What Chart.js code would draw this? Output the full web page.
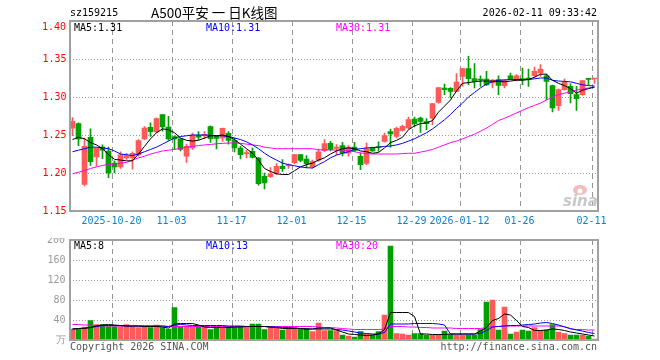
<!DOCTYPE html>
<html>
<head>
<meta charset="utf-8">
<script src="https://cdn.jsdelivr.net/npm/chart.js@4.4.1/dist/chart.umd.min.js"></script>
<style>
  body { margin: 0; background: #fff; }
  #wrap { position: relative; width: 660px; height: 360px; overflow: hidden; }
  canvas { position: absolute; left: 0; }
  #k { top: 0; }
  #v { top: 236px; }
</style>
</head>
<body>
<div id="wrap">
  <canvas id="k" width="660" height="236"></canvas>
  <canvas id="v" width="660" height="124"></canvas>
</div>
<script>
// Dias de negociação (sz159215, diário)
const dates = [
  "2025-10-09","2025-10-10","2025-10-13","2025-10-14","2025-10-15","2025-10-16","2025-10-17","2025-10-20","2025-10-21","2025-10-22",
  "2025-10-23","2025-10-24","2025-10-27","2025-10-28","2025-10-29","2025-10-30","2025-10-31","2025-11-03","2025-11-04","2025-11-05",
  "2025-11-06","2025-11-07","2025-11-10","2025-11-11","2025-11-12","2025-11-13","2025-11-14","2025-11-17","2025-11-18","2025-11-19",
  "2025-11-20","2025-11-21","2025-11-24","2025-11-25","2025-11-26","2025-11-27","2025-11-28","2025-12-01","2025-12-02","2025-12-03",
  "2025-12-04","2025-12-05","2025-12-08","2025-12-09","2025-12-10","2025-12-11","2025-12-12","2025-12-15","2025-12-16","2025-12-17",
  "2025-12-18","2025-12-19","2025-12-22","2025-12-23","2025-12-24","2025-12-25","2025-12-26","2025-12-29","2025-12-30","2025-12-31",
  "2026-01-05","2026-01-06","2026-01-07","2026-01-08","2026-01-09","2026-01-12","2026-01-13","2026-01-14","2026-01-15","2026-01-16",
  "2026-01-19","2026-01-20","2026-01-21","2026-01-22","2026-01-23","2026-01-26","2026-01-27","2026-01-28","2026-01-29","2026-01-30",
  "2026-02-02","2026-02-03","2026-02-04","2026-02-05","2026-02-06","2026-02-09","2026-02-10","2026-02-11"
];

const open = [
  1.259,1.265,1.185,1.247,1.221,1.234,1.229,1.213,1.208,1.220,
  1.220,1.224,1.245,1.260,1.254,1.277,1.2605,1.248,1.245,1.222,
  1.233,1.2495,1.2495,1.261,1.2482,1.2461,1.2522,1.243,1.2329,1.2255,
  1.2285,1.2197,1.1956,1.1952,1.200,1.2088,1.2095,1.2135,1.2241,1.2184,
  1.208,1.217,1.2294,1.239,1.2325,1.236,1.226,1.2342,1.2219,1.2125,
  1.2333,1.234,1.2417,1.2544,1.2482,1.2561,1.2592,1.2711,1.2724,1.2675,
  1.272,1.293,1.3118,1.3114,1.3075,1.3272,1.3373,1.3241,1.3232,1.3237,
  1.3184,1.3228,1.3149,1.328,1.3228,1.3232,1.3240,1.328,1.3316,1.328,
  1.3149,1.2886,1.3096,1.314,1.3031,1.3031,1.3237,1.3237
];
const high = [
  1.273,1.266,1.246,1.258,1.233,1.237,1.234,1.216,1.228,1.226,
  1.228,1.244,1.261,1.266,1.2725,1.277,1.2746,1.249,1.246,1.238,
  1.2526,1.2544,1.2544,1.262,1.249,1.2592,1.2544,1.2461,1.2351,1.2298,
  1.2329,1.2206,1.200,1.207,1.2123,1.2175,1.212,1.2245,1.2245,1.2228,
  1.217,1.2316,1.2439,1.2417,1.2373,1.2404,1.236,1.2404,1.2263,1.2395,
  1.2342,1.241,1.2526,1.2579,1.2605,1.263,1.2737,1.2737,1.2737,1.2715,
  1.2912,1.3123,1.317,1.3123,1.3307,1.3373,1.3535,1.3439,1.328,1.3338,
  1.3228,1.328,1.3228,1.3316,1.3294,1.3382,1.3368,1.3395,1.3425,1.330,
  1.3158,1.3105,1.3237,1.3175,1.314,1.3215,1.3237,1.3245
];
const low = [
  1.249,1.236,1.183,1.210,1.209,1.219,1.194,1.200,1.206,1.218,
  1.205,1.222,1.244,1.248,1.253,1.255,1.243,1.231,1.229,1.214,
  1.231,1.244,1.245,1.2404,1.2316,1.2417,1.238,1.2276,1.2184,1.2197,
  1.2197,1.184,1.1789,1.1943,1.1978,1.2022,1.206,1.212,1.2145,1.2066,
  1.2066,1.2154,1.228,1.229,1.2241,1.2225,1.222,1.228,1.2044,1.211,
  1.2285,1.2285,1.2405,1.234,1.246,1.255,1.258,1.2605,1.2535,1.257,
  1.2636,1.292,1.303,1.2987,1.3066,1.314,1.3162,1.3118,1.314,1.3154,
  1.3118,1.3031,1.312,1.3228,1.321,1.3162,1.314,1.326,1.3272,1.2965,
  1.2803,1.2825,1.309,1.2921,1.2825,1.302,1.3162,1.318
];
const close = [
  1.268,1.245,1.235,1.215,1.2325,1.230,1.200,1.208,1.224,1.223,
  1.226,1.2425,1.259,1.2545,1.2715,1.2605,1.2447,1.245,1.231,1.235,
  1.250,1.2473,1.250,1.2452,1.2456,1.2588,1.2430,1.2329,1.2241,1.2263,
  1.2206,1.186,1.1868,1.1987,1.2088,1.2057,1.2100,1.2241,1.2165,1.2123,
  1.215,1.228,1.2386,1.231,1.2342,1.2262,1.2342,1.2298,1.211,1.232,
  1.2292,1.2335,1.2491,1.2513,1.2588,1.2614,1.2702,1.265,1.268,1.2649,
  1.2912,1.3123,1.3096,1.3075,1.3197,1.3373,1.3241,1.3206,1.3224,1.3158,
  1.3222,1.3154,1.3215,1.3237,1.3280,1.3228,1.3235,1.3338,1.3368,1.3206,
  1.2855,1.3096,1.3197,1.3044,1.2978,1.3215,1.3232,1.3245
];

// Médias móveis
const ma5 = [
  1.244,1.247,1.245,1.240,1.237,1.232,1.224,1.218,1.217,1.216,
  1.216,1.225,1.235,1.245,1.253,1.258,1.257,1.253,1.246,1.243,
  1.242,1.243,1.246,1.249,1.249,1.250,1.248,1.244,1.238,1.232,
  1.226,1.217,1.206,1.202,1.199,1.198,1.198,1.203,1.208,1.211,
  1.213,1.217,1.220,1.225,1.229,1.232,1.233,1.232,1.229,1.228,
  1.226,1.227,1.233,1.240,1.243,1.247,1.257,1.262,1.265,1.266,
  1.269,1.280,1.288,1.296,1.308,1.318,1.319,1.320,1.321,1.321,
  1.321,1.3205,1.320,1.321,1.322,1.322,1.323,1.326,1.330,1.330,
  1.322,1.318,1.315,1.311,1.305,1.309,1.311,1.313
];
const ma10 = [
  1.228,1.230,1.232,1.234,1.234,1.233,1.232,1.229,1.225,1.224,
  1.223,1.225,1.228,1.231,1.234,1.238,1.242,1.246,1.248,1.249,
  1.250,1.250,1.250,1.2495,1.249,1.249,1.248,1.246,1.244,1.241,
  1.237,1.232,1.226,1.221,1.217,1.213,1.211,1.2095,1.208,1.207,
  1.2065,1.211,1.215,1.220,1.2235,1.226,1.228,1.231,1.232,1.233,
  1.2335,1.234,1.235,1.2355,1.237,1.239,1.242,1.245,1.249,1.253,
  1.258,1.264,1.270,1.277,1.285,1.292,1.300,1.306,1.312,1.317,
  1.320,1.322,1.3225,1.323,1.323,1.323,1.323,1.324,1.325,1.325,
  1.322,1.321,1.3205,1.320,1.318,1.316,1.315,1.3145
];
const ma30 = [
  1.199,1.201,1.203,1.206,1.208,1.210,1.211,1.212,1.213,1.214,
  1.217,1.220,1.222,1.225,1.227,1.229,1.230,1.231,1.2325,1.234,
  1.235,1.236,1.237,1.2375,1.2385,1.239,1.2395,1.2395,1.239,1.238,
  1.237,1.236,1.234,1.233,1.232,1.232,1.232,1.232,1.232,1.232,
  1.232,1.2305,1.2305,1.2305,1.230,1.230,1.2295,1.228,1.2265,1.2255,
  1.225,1.225,1.225,1.225,1.225,1.2255,1.226,1.226,1.2275,1.229,
  1.231,1.234,1.237,1.240,1.242,1.245,1.248,1.251,1.255,1.259,
  1.264,1.269,1.272,1.2755,1.279,1.2825,1.286,1.289,1.292,1.296,
  1.300,1.303,1.305,1.307,1.309,1.3105,1.312,1.313
];

// Volume (万) e médias
const volume = [
  22,22,26,39,31,31,27,27,27,31,
  27,25,27,25,30,25,22,65,27,27,
  27,27,27,21,27,27,27,27,27,27,
  32,32,21,27,24,20,25,25,23,23,
  17,34,19,19,19,10,8,6,17,12,
  10,17,50,188,13,12,10,13,13,10,
  10,10,18,11,10,10,10,10,21,76,
  80,20,66,12,16,20,18,25,19,20,
  31,16,13,10,10,10,8,2
];
const volMa5 = [
  22,23,23,25,28,30,31,30,29,28,
  28,28,27,27,27,26,24,32,33,33,
  33,30,26,25,25,25,25,26,26,27,
  27,27,27,26,25,23,23,23,23,22,
  22,24,24,24,20,16,12,11,10,9,
  10,12,21,55,55,55,55,47,12,12,
  11,11,11,12,12,12,12,12,18,25,
  39,43,52,50,39,27,25,19,19,20,
  22,21,19,16,14,12,10,8
];
const volMa10 = [
  22,23,24,25,27,29,29,29,29,28,
  28,28,28,28,28,28,27,30,31,30,
  29,29,29,29,29,29,28,28,28,27,
  27,27,27,26,26,25,25,24,23,22,
  22,22,22,22,21,20,18,16,14,13,
  12,12,15,32,32,32,32,33,33,33,
  33,32,30,12,12,12,12,12,13,19,
  26,27,28,29,29,30,31,32,34,35,
  33,30,26,23,20,18,15,13
];
const volMa30 = [
  31,31,30,30,29,28,28,28,28,28,
  28,28,28,28,28,28,27,27,27,27,
  27,27,27,27,27,27,27,27,27,27,
  27,27,27,27,27,27,27,27,27,27,
  27,26,25,25,24,23,22,21,21,21,
  21,21,22,27,27,27,26,26,25,25,
  24,24,24,24,23,23,23,23,23,25,
  27,27,28,28,28,28,28,28,28,28,
  28,28,27,22,21,21,20,20
];

// Rótulos do eixo x
const tickDays = ["2025-10-20","2025-11-03","2025-11-17","2025-12-01","2025-12-15","2025-12-29","2026-01-12","2026-01-26","2026-02-11"];
const tickText = ["2025-10-20","11-03","11-17","12-01","12-15","12-29","2026-01-12","01-26","02-11"];

const RED = "#ff5a5a", GREEN = "#00a000";
const MONO = "DejaVu Sans Mono";
const cores = dates.map((d, i) => close[i] >= open[i] ? RED : GREEN);
const tickIdx = tickDays.map(d => dates.indexOf(d));

// Grade, moldura e textos desenhados no canvas
const decor = {
  id: "decor",
  beforeDatasetsDraw(chart, args, opts) {
    const c = chart.ctx, a = chart.chartArea;
    const xs = chart.scales.x, ys = chart.scales.y;
    const l = Math.round(a.left), r = Math.round(a.right);
    c.save();
    c.lineWidth = 1;
    // linhas horizontais pontilhadas
    c.strokeStyle = "#999999";
    c.setLineDash([1, 2]);
    ys.ticks.forEach(t => {
      if (t.value <= ys.min || t.value >= ys.max) return;
      const y = Math.round(ys.getPixelForValue(t.value)) + 0.5;
      c.beginPath(); c.moveTo(l, y); c.lineTo(r, y); c.stroke();
    });
    // linhas verticais tracejadas
    c.strokeStyle = "#959595";
    c.setLineDash([5, 4]);
    const meio = xs.width / dates.length / 2;
    tickIdx.forEach(i => {
      const x = Math.round(xs.getPixelForValue(i) - meio) + 0.5;
      c.beginPath(); c.moveTo(x, Math.round(a.top)); c.lineTo(x, Math.round(a.bottom)); c.stroke();
    });
    c.setLineDash([]);
    if (opts.logo) {
      c.fillStyle = "#f2bcbc";
      c.beginPath(); c.ellipse(580, 190, 7, 5, 0, 0, Math.PI * 2); c.fill();
      c.fillStyle = "#fff";
      c.beginPath(); c.arc(580, 191, 2.5, 0, Math.PI * 2); c.fill();
      c.fillStyle = "#c8c8c8";
      c.font = "italic bold 15px DejaVu Sans";
      c.fillText("sina", 563, 206);
    }
    c.restore();
  },
  afterDraw(chart, args, opts) {
    const c = chart.ctx, a = chart.chartArea;
    c.save();
    c.strokeStyle = "#a0a0a0";
    c.lineWidth = 2;
    const l = Math.round(a.left), t = Math.round(a.top), r = Math.round(a.right), b = Math.round(a.bottom);
    c.strokeRect(l, t, r - l, b - t);
    c.textBaseline = "middle";
    (opts.labels || []).forEach(x => {
      c.save();
      const y = x.fromTop ? t + x.y : (x.fromBottom ? b + x.y : x.y);
      if (x.clipAbove !== undefined) {
        c.beginPath(); c.rect(0, t + x.clipAbove, chart.width, chart.height); c.clip();
      }
      c.font = x.font || ("10px " + MONO);
      c.fillStyle = x.color;
      c.textAlign = x.align || "left";
      c.fillText(x.text, x.x, y);
      c.restore();
    });
    c.restore();
  }
};

// Gráfico K (velas + médias)
new Chart(document.getElementById("k"), {
  type: "bar",
  data: {
    labels: dates,
    datasets: [
      { type: "line", data: ma5, borderColor: "#000000", borderWidth: 1, pointRadius: 0, order: 0 },
      { type: "line", data: ma10, borderColor: "#0000ff", borderWidth: 1, pointRadius: 0, order: 1 },
      { type: "line", data: ma30, borderColor: "#ff00ff", borderWidth: 1, pointRadius: 0, order: 2 },
      { data: dates.map((d, i) => [open[i], close[i]]), backgroundColor: cores, barThickness: 5, minBarLength: 1, grouped: false, order: 3 },
      { data: dates.map((d, i) => [low[i], high[i]]), backgroundColor: cores, barThickness: 1, grouped: false, order: 4 }
    ]
  },
  options: {
    responsive: false,
    animation: false,
    devicePixelRatio: 1,
    layout: { padding: { left: 0.5, top: 21, right: 62.5, bottom: 0 } },
    plugins: {
      legend: { display: false },
      tooltip: { enabled: false },
      decor: {
        logo: true,
        labels: [
          { text: "sz159215", x: 70, y: 13, color: "#000" },
          { text: "A500平安 一 日K线图", x: 151, y: 13, color: "#000", font: "13.5px Noto Sans CJK SC" },
          { text: "2026-02-11 09:33:42", x: 597, y: 13, color: "#000", align: "right" },
          { text: "1.40", x: 66, y: 27, color: "#ff0000", align: "right" },
          { text: "MA5:" + ma5[ma5.length - 1].toFixed(2), x: 74, y: 28, color: "#000" },
          { text: "MA10:" + ma10[ma10.length - 1].toFixed(2), x: 206, y: 28, color: "#0000ff" },
          { text: "MA30:" + ma30[ma30.length - 1].toFixed(2), x: 336, y: 28, color: "#ff00ff" }
        ]
      }
    },
    scales: {
      x: {
        offset: true,
        grid: { display: false, drawTicks: false },
        border: { display: false },
        ticks: {
          autoSkip: false, maxRotation: 0, padding: 4, labelOffset: -3,
          color: "#0a82cc", font: { family: MONO, size: 10 },
          callback: (v, i) => { const k = tickIdx.indexOf(i); return k >= 0 ? tickText[k] : ""; }
        },
        afterFit: s => { s.height = 25; }
      },
      y: {
        min: 1.15, max: 1.40,
        grid: { display: false, drawTicks: false },
        border: { display: false },
        ticks: {
          stepSize: 0.05, padding: 3, color: "#ff0000", font: { family: MONO, size: 10 },
          callback: v => v >= 1.399 ? null : v.toFixed(2)
        },
        afterFit: s => { s.width = 69; }
      }
    }
  },
  plugins: [decor]
});

// Gráfico de volume
const volCanvas = document.getElementById("v");
const volConfig = () => ({
  type: "bar",
  data: {
    labels: dates,
    datasets: [
      { type: "line", data: volMa5, borderColor: "#000000", borderWidth: 1, pointRadius: 0, order: 0 },
      { type: "line", data: volMa10, borderColor: "#0000ff", borderWidth: 1, pointRadius: 0, order: 1 },
      { type: "line", data: volMa30, borderColor: "#ff00ff", borderWidth: 1, pointRadius: 0, order: 2 },
      { data: volume, backgroundColor: cores, barThickness: 5, grouped: false, order: 3 }
    ]
  },
  options: {
    responsive: false,
    maintainAspectRatio: false,
    animation: false,
    devicePixelRatio: 1,
    layout: { padding: { left: 0.5, top: 4, right: 62.5, bottom: 20 } },
    plugins: {
      legend: { display: false },
      tooltip: { enabled: false },
      decor: {
        labels: [
          { text: "200", x: 65, y: 0, fromTop: true, clipAbove: -2, color: "#999", align: "right" },
          { text: "MA5:" + volMa5[volMa5.length - 1], x: 74, y: 6, fromTop: true, color: "#000" },
          { text: "MA10:" + volMa10[volMa10.length - 1], x: 206, y: 6, fromTop: true, color: "#0000ff" },
          { text: "MA30:" + volMa30[volMa30.length - 1], x: 336, y: 6, fromTop: true, color: "#ff00ff" },
          { text: "Copyright 2026 SINA.COM", x: 70, y: 7, fromBottom: true, color: "#555" },
          { text: "http://finance.sina.com.cn", x: 597, y: 7, fromBottom: true, color: "#555", align: "right" }
        ]
      }
    },
    scales: {
      x: {
        offset: true,
        grid: { display: false, drawTicks: false },
        border: { display: false },
        ticks: { display: false },
        afterFit: s => { s.height = 0; }
      },
      y: {
        min: 0, max: 200,
        grid: { display: false, drawTicks: false },
        border: { display: false },
        ticks: {
          stepSize: 40, padding: 4, color: "#999", font: { family: MONO, size: 10 },
          callback: v => v === 0 ? "万" : (v >= 200 ? null : v)
        },
        afterFit: s => { s.width = 69; }
      }
    }
  },
  plugins: [decor]
});

// mede o topo que o Chart.js reserva e refaz o canvas para a área ficar em y 240..340
let volChart = new Chart(volCanvas, volConfig());
const topo = volChart.chartArea.top;
volChart.destroy();
volCanvas.width = 660;
volCanvas.height = Math.round(120 + topo);
volCanvas.style.top = Math.round(240 - topo) + "px";
volChart = new Chart(volCanvas, volConfig());
</script>
</body>
</html>
